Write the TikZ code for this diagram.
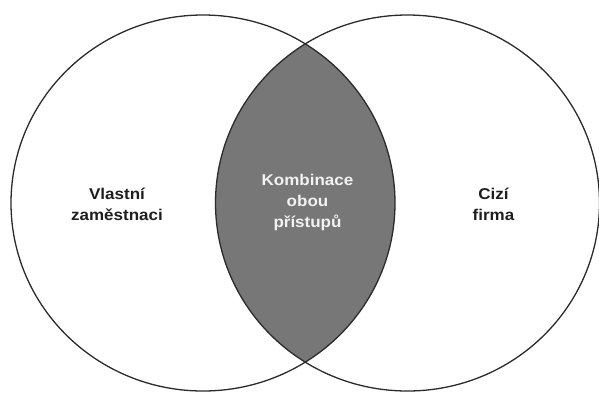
\documentclass[tikz,border=0pt]{standalone}
\usepackage{fontspec}
\setmainfont{Liberation Sans}[FakeStretch=1.09]
\definecolor{lensgray}{HTML}{777777}
\definecolor{rimgray}{HTML}{2B2B2B}
\definecolor{labeldark}{HTML}{1E1E1E}
\definecolor{labellight}{HTML}{F2F2F2}
\begin{document}
\begin{tikzpicture}[x=1pt,y=-1pt,
  rim/.style={draw=rimgray,line width=1.3pt},
  lbl/.style={align=center,inner sep=0pt,font=\fontsize{15.6}{20.7}\selectfont\bfseries}]
\useasboundingbox (0,0) rectangle (599,392);
\fill[white] (0,0) rectangle (599,392);
% lens
\begin{scope}
  \clip (203,203) ellipse [x radius=192, y radius=188];
  \fill[lensgray] (407.5,203) ellipse [x radius=192, y radius=188];
\end{scope}
\draw[rim] (203,203) ellipse [x radius=192, y radius=188];
\draw[rim] (407.5,203) ellipse [x radius=192, y radius=188];
% labels
\node[lbl,text=labeldark] (own) at (117,204.5) {Vlastní\\zaměstnaci};
\node[lbl,text=labellight] (both) at (307.5,202.5) {Kombinace\\obou\\přístupů};
\node[lbl,text=labeldark] (ext) at (493.5,204.5) {Cizí\\firma};
\end{tikzpicture}
\end{document}
